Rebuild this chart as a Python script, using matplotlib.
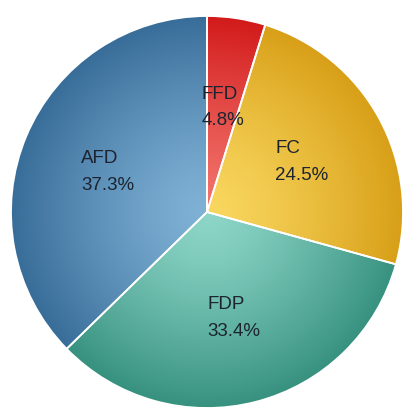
import numpy as np
import matplotlib
matplotlib.use('Agg')
import matplotlib.pyplot as plt
from matplotlib.colors import to_rgb

labels = ['FFD', 'FC', 'FDP', 'AFD']
shares = [4.8, 24.5, 33.4, 37.3]
# (light centre colour, dark rim colour) for each slice
light_colors = ['#f2736c', '#f9d75f', '#8dd6c8', '#80b2d6']
dark_colors = ['#d21a1a', '#d89f17', '#37917f', '#386d99']

fig = plt.figure(figsize=(4.11, 4.18), dpi=100)
ax = fig.add_axes([7 / 411, 6 / 418, 400 / 411, 400 / 418])

wedges, _ = ax.pie(shares, startangle=90, counterclock=False, radius=1.0,
                   wedgeprops=dict(edgecolor='white', linewidth=1.3))

# radial gradient image, clipped to each wedge
n = 500
xs = np.linspace(-1, 1, n)
X, Y = np.meshgrid(xs, xs)
R = np.clip(np.sqrt(X ** 2 + Y ** 2), 0, 1)
t = R ** 1.3

for w, lc, dc, lab, val in zip(wedges, light_colors, dark_colors, labels, shares):
    w.set_facecolor('none')
    w.set_zorder(2)
    c0 = np.array(to_rgb(lc))
    c1 = np.array(to_rgb(dc))
    img = c0[None, None, :] + (c1 - c0)[None, None, :] * t[:, :, None]
    im = ax.imshow(img, extent=[-1, 1, -1, 1], origin='lower', zorder=1,
                   interpolation='bilinear')
    im.set_clip_path(w)

    mid = np.deg2rad((w.theta1 + w.theta2) / 2)
    d = 0.55
    ax.text(d * np.cos(mid), d * np.sin(mid) - 0.01, f'{lab}\n{val:.1f}%',
            ha='center', va='center', multialignment='left',
            fontsize=13.5, family='Liberation Sans', color='#1c2430',
            linespacing=1.75, zorder=3)

lim = 200 / 196
ax.set_xlim(-lim, lim)
ax.set_ylim(-lim, lim)
ax.set_aspect('equal')
ax.axis('off')

fig.savefig('out.png', dpi=100)
